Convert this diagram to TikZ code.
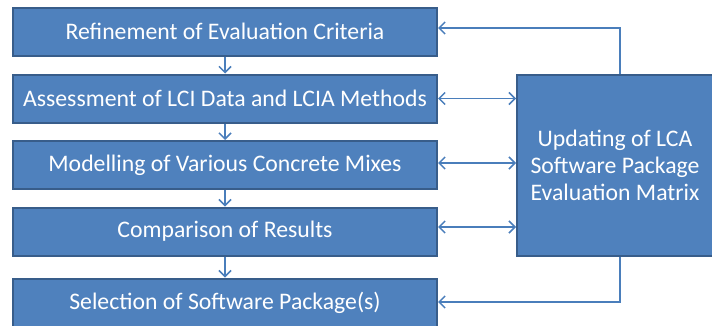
\documentclass[tikz,border=0pt]{standalone}
\usepackage{fontspec}
\setmainfont{Carlito}
\usetikzlibrary{arrows.meta}
\definecolor{boxfill}{HTML}{4F81BD}
\definecolor{boxedge}{HTML}{385D8A}
\definecolor{linkcol}{HTML}{4A7EBB}
\begin{document}
\begin{tikzpicture}[x=0.75pt,y=-0.75pt,
  stepbox/.style={draw=boxedge,line width=1.5pt,fill=boxfill,text=white,
    minimum width=424*0.75pt,minimum height=48*0.75pt,inner sep=0pt,
    font=\fontsize{17.8}{20}\selectfont},
  bigbox/.style={draw=boxedge,line width=1.5pt,fill=boxfill,text=white,
    minimum width=196*0.75pt,minimum height=181*0.75pt,inner sep=0pt,align=center,
    font=\fontsize{17.8}{20}\selectfont},
  link/.style={draw=linkcol,line width=1.1pt},
  tip/.style={-{Straight Barb[length=4.5pt,width=9pt,line width=1.1pt]}},
  both/.style={{Straight Barb[length=4.5pt,width=9pt,line width=1.1pt]}-{Straight Barb[length=4.5pt,width=9pt,line width=1.1pt]}}]
\useasboundingbox (0,0) rectangle (712,325);
% process steps on the left
\node[stepbox] (s1) at (225,31.5) {Refinement of Evaluation Criteria};
\node[stepbox] (s2) at (225,98.5) {Assessment of LCI Data and LCIA Methods};
\node[stepbox] (s3) at (225,165) {Modelling of Various Concrete Mixes};
\node[stepbox] (s4) at (225,231.5) {Comparison of Results};
\node[stepbox] (s5) at (225,302.5) {Selection of Software Package(s)};
% evaluation matrix on the right
\node[bigbox] (m) at (615,165.5) {Updating of LCA\\Software Package\\Evaluation Matrix};
% downward flow
\draw[link,tip] (s1) -- (s2);
\draw[link,tip] (s2) -- (s3);
\draw[link,tip] (s3) -- (s4);
\draw[link,tip] (s4) -- (s5);
% two-way links with the matrix
\draw[link,both] (s2.east) -- (s2.east -| m.west);
\draw[link,both] (s3.east |- 0,163) -- (m.west |- 0,163);
\draw[link,both] (s4.east |- 0,227) -- (m.west |- 0,227);
% feedback to the first and last steps
\coordinate (mt) at (620,28);
\coordinate (mb) at (620,302);
\draw[link,tip] (m.north -| mt) -- (mt) -- (s1.east |- mt);
\draw[link,tip] (m.south -| mb) -- (mb) -- (s5.east |- mb);
\end{tikzpicture}
\end{document}
